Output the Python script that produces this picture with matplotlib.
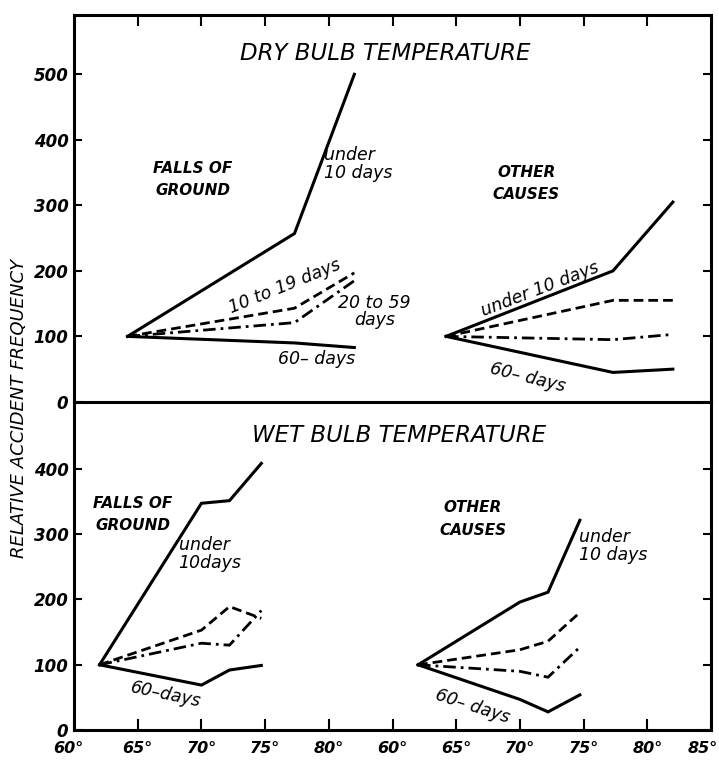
"""
Relative accident frequency against dry and wet bulb temperature.
"""
import numpy as np
import matplotlib
matplotlib.use('Agg')
import matplotlib.pyplot as plt
import matplotlib.transforms as mtransforms

# second group ("other causes") is drawn to the right of the first one
OFFSET = 25

# x tick labels along the bottom
xtick_pos = list(range(60, 111, 5))
xtick_labels = ['60°', '65°', '70°', '75°', '80°', '60°', '65°', '70°', '75°', '80°', '85°']

# dry bulb temperature
dry_temps = [64.2, 77.3, 82.0]
dry_falls_u10 = [100, 257, 500]
dry_falls_10_19 = [100, 143, 197]
dry_falls_20_59 = [100, 121, 185]
dry_falls_60 = [100, 90, 83]
dry_other_u10 = [100, 200, 305]
dry_other_10_19 = [100, 155, 155]
dry_other_20_59 = [100, 95, 103]
dry_other_60 = [100, 45, 50]

# wet bulb temperature
wet_temps = [62.0, 70.0, 72.2, 74.7]
wet_falls_u10 = [100, 347, 351, 408]
wet_falls_10_19 = [100, 153, 189, 171]
wet_falls_20_59 = [100, 133, 130, 183]
wet_falls_60 = [100, 69, 92, 99]
wet_other_u10 = [100, 196, 211, 321]
wet_other_10_19 = [100, 123, 136, 180]
wet_other_20_59 = [100, 90, 81, 127]
wet_other_60 = [100, 47, 28, 54]

SOLID = dict(color='black', lw=2.2, ls='-', solid_joinstyle='miter')
DASHED = dict(color='black', lw=2.0, ls=(0, (3.5, 1.8)))
DASHDOT = dict(color='black', lw=2.0, ls=(0, (4.5, 1.8, 1.0, 1.8)))

LABEL = dict(fontsize=12.5, style='italic', color='black')
GROUP = dict(fontsize=11, style='italic', fontweight='bold', ha='center', va='center', linespacing=1.6)
TICKS = dict(fontsize=12, style='italic', fontweight='bold')


def draw_group(ax, temps, offset, u10, d10_19, d20_59, d60):
    x = np.array(temps) + offset
    ax.plot(x, u10, **SOLID)
    ax.plot(x, d10_19, **DASHED)
    ax.plot(x, d20_59, **DASHDOT)
    ax.plot(x, d60, **SOLID)


def style_axes(ax, ymax, yticks):
    ax.set_xlim(60, 110)
    ax.set_ylim(0, ymax)
    for s in ax.spines.values():
        s.set_linewidth(2.2)
    ax.set_yticks(yticks)
    ax.set_yticklabels([str(v) for v in yticks], **TICKS)
    ax.tick_params(axis='y', direction='in', length=6, width=1.5, left=True, right=True, pad=4)
    ax.tick_params(axis='x', direction='in', length=8, width=1.5)


fig = plt.figure(figsize=(7.19, 7.67), dpi=100)
ax2 = fig.add_axes([0.103, 0.048, 0.886, 0.428])
ax1 = fig.add_axes([0.103, 0.476, 0.886, 0.504])
ax1.patch.set_visible(False)

# --- dry bulb ---
draw_group(ax1, dry_temps, 0, dry_falls_u10, dry_falls_10_19, dry_falls_20_59, dry_falls_60)
draw_group(ax1, dry_temps, OFFSET, dry_other_u10, dry_other_10_19, dry_other_20_59, dry_other_60)
style_axes(ax1, 590, [0, 100, 200, 300, 400, 500])
ax1.set_xticks(xtick_pos[1:-1])
ax1.tick_params(axis='x', top=True, bottom=False, labelbottom=False)

ax1.text(84.4, 532, 'DRY BULB TEMPERATURE', fontsize=16.5, style='italic', ha='center', va='center')
ax1.text(69.3, 340, 'FALLS OF\nGROUND', **GROUP)
ax1.text(95.5, 333, 'OTHER\nCAUSES', **GROUP)
ax1.text(79.6, 363, 'under\n10 days', ha='left', va='center', linespacing=1.0, **LABEL)
ax1.text(76.5, 176, '10 to 19 days', rotation=22, ha='center', va='center', **LABEL)
ax1.text(83.6, 138, '20 to 59\ndays', ha='center', va='center', linespacing=0.95, **LABEL)
ax1.text(79.0, 66, '60– days', ha='center', va='center', **LABEL)
ax1.text(96.6, 172, 'under 10 days', rotation=21, ha='center', va='center', **LABEL)
ax1.text(95.6, 37, '60– days', rotation=-14, ha='center', va='center', **LABEL)

# --- wet bulb ---
draw_group(ax2, wet_temps, 0, wet_falls_u10, wet_falls_10_19, wet_falls_20_59, wet_falls_60)
draw_group(ax2, wet_temps, OFFSET, wet_other_u10, wet_other_10_19, wet_other_20_59, wet_other_60)
style_axes(ax2, 502, [0, 100, 200, 300, 400])
ax2.spines['top'].set_visible(False)
ax2.set_xticks(xtick_pos)
ax2.set_xticklabels(xtick_labels, fontsize=11.5, style='italic', fontweight='bold')
ax2.tick_params(axis='x', top=False, bottom=True, pad=8)
# keep the outer labels inside the picture
xl = ax2.get_xticklabels()
xl[0].set_transform(xl[0].get_transform() + mtransforms.ScaledTranslation(-4 / 72, 0, fig.dpi_scale_trans))
xl[-1].set_transform(xl[-1].get_transform() + mtransforms.ScaledTranslation(-6 / 72, 0, fig.dpi_scale_trans))

ax2.text(85.5, 450, 'WET BULB TEMPERATURE', fontsize=16.5, style='italic', ha='center', va='center')
ax2.text(64.6, 330, 'FALLS OF\nGROUND', **GROUP)
ax2.text(91.3, 323, 'OTHER\nCAUSES', **GROUP)
ax2.text(68.2, 270, 'under\n10days', ha='left', va='center', linespacing=1.0, **LABEL)
ax2.text(67.2, 55, '60–days', rotation=-12, ha='center', va='center', **LABEL)
ax2.text(99.6, 282, 'under\n10 days', ha='left', va='center', linespacing=1.0, **LABEL)
ax2.text(91.3, 37, '60– days', rotation=-18, ha='center', va='center', **LABEL)

fig.text(0.026, 0.468, 'RELATIVE ACCIDENT FREQUENCY', rotation=90, fontsize=13,
         style='italic', ha='center', va='center')

plt.savefig('out.png', dpi=100)
